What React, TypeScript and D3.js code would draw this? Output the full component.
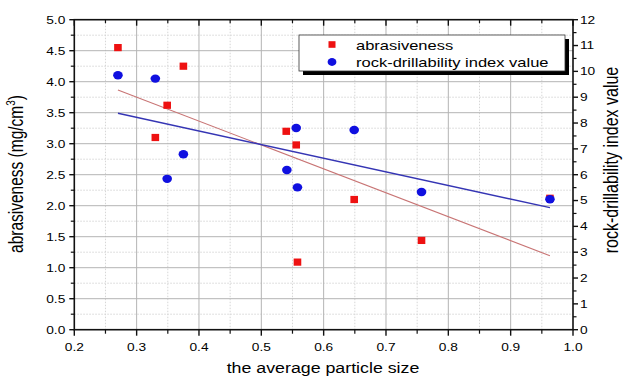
import React from "react";
import * as d3 from "d3";

// ---- data ----
const abrasX = [0.27, 0.33, 0.349, 0.375, 0.54, 0.556, 0.558, 0.649, 0.757, 0.963];
const abrasY = [4.55, 3.1, 3.62, 4.25, 3.2, 2.98, 1.09, 2.1, 1.44, 2.12];
const rdiX = [0.27, 0.33, 0.349, 0.375, 0.541, 0.556, 0.558, 0.649, 0.757, 0.963];
const rdiY = [9.85, 9.72, 5.84, 6.79, 6.18, 7.81, 5.51, 7.73, 5.33, 5.05];

const xTicks = [0.2, 0.3, 0.4, 0.5, 0.6, 0.7, 0.8, 0.9, 1.0];
const leftTicks = [0, 0.5, 1, 1.5, 2, 2.5, 3, 3.5, 4, 4.5, 5];
const rightTicks = [0, 1, 2, 3, 4, 5, 6, 7, 8, 9, 10, 11, 12];
const legendLabels = ["abrasiveness", "rock-drillability index value"];
const xTitle = "the average particle size";
const rightTitle = "rock-drillability index value";

const W = 623, H = 381;
const M = { left: 74.3, right: 573, top: 19.7, bottom: 329.7 };
const SX = 1.27; // horizontal text stretch
const FONT = "'Liberation Sans', Arial, sans-serif";

function fit(xs: number[], ys: number[]) {
  const mx = d3.mean(xs)!, my = d3.mean(ys)!;
  let sxy = 0, sxx = 0;
  xs.forEach((x, i) => { sxy += (x - mx) * (ys[i] - my); sxx += (x - mx) * (x - mx); });
  const b = sxy / sxx;
  const a = my - b * mx;
  const x0 = d3.min(xs)!, x1 = d3.max(xs)!;
  return [[x0, a + b * x0], [x1, a + b * x1]] as [number, number][];
}

function T({ x, y, size, anchor = "start", rot = 0, children }: any) {
  return (
    <text
      transform={`translate(${x},${y}) scale(${SX},1) rotate(${rot})`}
      fontSize={size}
      fontFamily={FONT}
      textAnchor={anchor}
      fill="#000"
    >
      {children}
    </text>
  );
}

export default function App() {
  const x = d3.scaleLinear().domain([0.2, 1.0]).range([M.left, M.right]);
  const yL = d3.scaleLinear().domain([0, 5]).range([M.bottom, M.top]);
  const yR = d3.scaleLinear().domain([0, 12]).range([M.bottom, M.top]);

  const xMinor = d3.range(0.25, 1.0, 0.1);
  const yMinor = d3.range(0.25, 5, 0.5);
  const rMinor = d3.range(0.5, 12, 1);

  const redFit = fit(abrasX, abrasY);
  const blueFit = fit(rdiX, rdiY);
  const lineL = d3.line<[number, number]>().x(d => x(d[0])).y(d => yL(d[1]));
  const lineR = d3.line<[number, number]>().x(d => x(d[0])).y(d => yR(d[1]));

  const axisColor = "#111";
  const lx = 299, ly = 35, lw = 266, lh = 36;

  return (
    <svg width={W} height={H} style={{ position: "absolute", left: 0, top: 0 }}>
      <rect width={W} height={H} fill="#fff" />
      {/* grid */}
      {yMinor.map(v => (
        <line key={"ym" + v} x1={M.left} x2={M.right} y1={yL(v)} y2={yL(v)} stroke="#d6d6d6" strokeDasharray="1.5,1.5" />
      ))}
      {xMinor.map(v => (
        <line key={"xm" + v} y1={M.top} y2={M.bottom} x1={x(v)} x2={x(v)} stroke="#d6d6d6" strokeDasharray="1.5,1.5" />
      ))}
      {leftTicks.slice(1, -1).map(v => (
        <line key={"yg" + v} x1={M.left} x2={M.right} y1={yL(v)} y2={yL(v)} stroke="#b4b4b4" />
      ))}
      {xTicks.slice(1, -1).map(v => (
        <line key={"xg" + v} y1={M.top} y2={M.bottom} x1={x(v)} x2={x(v)} stroke="#b4b4b4" />
      ))}

      {/* fit lines */}
      <path d={lineL(redFit)!} stroke="#c87474" strokeWidth={1.1} fill="none" />
      <path d={lineR(blueFit)!} stroke="#3535b4" strokeWidth={1.4} fill="none" />

      {/* points */}
      {abrasX.map((v, i) => (
        <rect key={"r" + i} x={x(v) - 3.8} y={yL(abrasY[i]) - 3.6} width={7.6} height={7.2} fill="#ee1111" />
      ))}
      {rdiX.map((v, i) => (
        <ellipse key={"b" + i} cx={x(v)} cy={yR(rdiY[i])} rx={4.8} ry={4.2} fill="#1010e0" />
      ))}

      {/* frame */}
      <rect x={M.left} y={M.top} width={M.right - M.left} height={M.bottom - M.top} fill="none" stroke={axisColor} strokeWidth={1.6} />

      {/* bottom & top ticks */}
      {xTicks.map(v => (
        <g key={"xt" + v}>
          <line x1={x(v)} x2={x(v)} y1={M.bottom} y2={M.bottom + 6} stroke={axisColor} strokeWidth={1.4} />
          <line x1={x(v)} x2={x(v)} y1={M.top} y2={M.top + 6} stroke={axisColor} strokeWidth={1.4} />
          <T x={x(v)} y={351} size={10.8} anchor="middle">{v.toFixed(1)}</T>
        </g>
      ))}
      {xMinor.map(v => (
        <g key={"xmt" + v}>
          <line x1={x(v)} x2={x(v)} y1={M.bottom} y2={M.bottom + 4} stroke={axisColor} strokeWidth={1.2} />
          <line x1={x(v)} x2={x(v)} y1={M.top} y2={M.top + 3.5} stroke={axisColor} strokeWidth={1.2} />
        </g>
      ))}

      {/* left ticks */}
      {leftTicks.map(v => (
        <g key={"lt" + v}>
          <line x1={M.left - 5} x2={M.left} y1={yL(v)} y2={yL(v)} stroke={axisColor} strokeWidth={1.4} />
          <T x={M.left - 9} y={yL(v) + 3.8} size={10.8} anchor="end">{v.toFixed(1)}</T>
        </g>
      ))}
      {yMinor.map(v => (
        <line key={"lmt" + v} x1={M.left - 3.5} x2={M.left} y1={yL(v)} y2={yL(v)} stroke={axisColor} strokeWidth={1.2} />
      ))}

      {/* right ticks */}
      {rightTicks.map(v => (
        <g key={"rt" + v}>
          <line x1={M.right} x2={M.right + 5} y1={yR(v)} y2={yR(v)} stroke={axisColor} strokeWidth={1.4} />
          <T x={M.right + 7} y={yR(v) + 3.8} size={10.8}>{String(v)}</T>
        </g>
      ))}
      {rMinor.map(v => (
        <line key={"rmt" + v} x1={M.right} x2={M.right + 3.5} y1={yR(v)} y2={yR(v)} stroke={axisColor} strokeWidth={1.2} />
      ))}

      {/* titles */}
      <T x={323} y={373} size={14} anchor="middle">{xTitle}</T>
      <T x={23} y={174} size={15.5} anchor="middle" rot={-90}>
        abrasiveness (mg/cm<tspan fontSize={10} dy={-6}>3</tspan><tspan dy={6}>)</tspan>
      </T>
      <T x={618} y={160} size={16} anchor="middle" rot={-90}>{rightTitle}</T>

      {/* legend */}
      <rect x={lx + 4} y={ly + 4} width={lw} height={lh} fill="#000" />
      <rect x={lx} y={ly} width={lw} height={lh} fill="#fff" stroke="#333" strokeWidth={0.8} />
      <rect x={332 - 3.5} y={44.5 - 3.3} width={7} height={6.6} fill="#ee1111" />
      <ellipse cx={332} cy={62} rx={4.4} ry={3.9} fill="#1010e0" />
      <T x={356} y={50} size={13}>{legendLabels[0]}</T>
      <T x={356} y={66.5} size={13}>{legendLabels[1]}</T>
    </svg>
  );
}
